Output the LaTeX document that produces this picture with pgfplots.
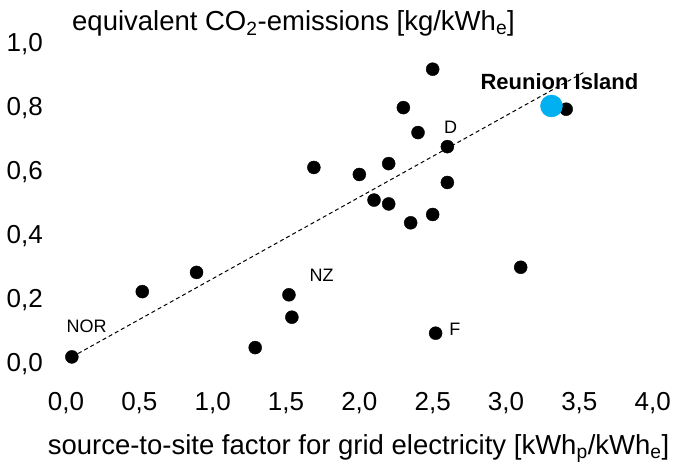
\documentclass[border=0pt]{standalone}
\usepackage{pgfplots}
\pgfplotsset{compat=1.18}
\usepackage{fontspec}
\setmainfont{Liberation Sans}
\definecolor{reublue}{RGB}{0,176,240}
\begin{document}
\begin{tikzpicture}
\begin{axis}[
  at={(0,0)}, anchor=south west,
  scale only axis, width=586.7pt, height=320pt,
  xmin=0, xmax=4, ymin=0, ymax=1,
  clip=false,
  axis line style={draw=none},
  major tick length=0pt,
  xtick={0,0.5,...,4}, ytick={0,0.2,...,1},
  /pgf/number format/.cd, fixed, fixed zerofill, precision=1, use comma, assume math mode=true,
  /pgfplots/.cd,
  tick label style={font=\fontsize{26}{30}\selectfont},
  xticklabel style={anchor=base, yshift=-48.7pt, inner sep=0pt},
  yticklabel style={anchor=base east, xshift=-23pt, yshift=-9.3pt, inner sep=0pt},
  xlabel={source-to-site factor for grid electricity [kWh\textsubscript{p}/kWh\textsubscript{e}]},
  ylabel={equivalent CO\textsubscript{2}-emissions [kg/kWh\textsubscript{e}]},
  every axis x label/.style={at={(axis description cs:0.4986,-0.2906)}, anchor=base, inner sep=0pt, font=\fontsize{27.5}{32}\selectfont},
  every axis y label/.style={at={(axis description cs:0.0102,1.0344)}, anchor=base west, inner sep=0pt, font=\fontsize{27.5}{32}\selectfont},
]
\addplot[black, line width=1pt, dash pattern=on 4pt off 3pt] coordinates {(0.041,0.016) (3.538,0.907)};
\addplot[only marks, mark=*, mark size=6.5pt, black] coordinates {
(0.04,0.016) (0.52,0.22) (0.89,0.28) (1.29,0.045) (1.52,0.21) (1.54,0.14)
(1.69,0.608) (2.0,0.586) (2.10,0.506) (2.20,0.62) (2.20,0.494) (2.30,0.795)
(2.35,0.435) (2.40,0.717) (2.50,0.915) (2.50,0.461) (2.52,0.09) (2.60,0.673)
(2.60,0.561) (3.10,0.296) (3.41,0.79)
};
\addplot[only marks, mark=*, mark size=11pt, color=reublue] coordinates {(3.31,0.80)};
\node[font=\fontsize{18}{20}\selectfont] at (axis cs:0.141,0.1125) {NOR};
\node[font=\fontsize{18}{20}\selectfont] at (axis cs:1.743,0.272) {NZ};
\node[font=\fontsize{18}{20}\selectfont] at (axis cs:2.622,0.733) {D};
\node[font=\fontsize{18}{20}\selectfont] at (axis cs:2.652,0.103) {F};
\node[font=\bfseries\fontsize{22}{24}\selectfont] at (axis cs:3.364,0.876) {Reunion Island};
\end{axis}
\pgfresetboundingbox
\path (-66pt,-106pt) rectangle (608pt,362pt);
\end{tikzpicture}
\end{document}
